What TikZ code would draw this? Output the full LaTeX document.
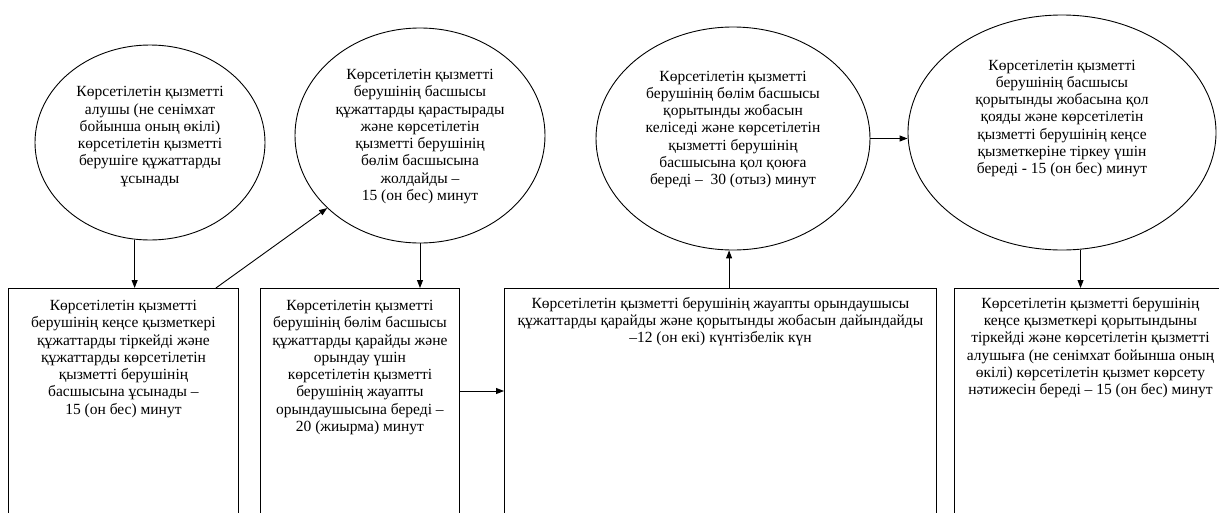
\documentclass[tikz,border=0pt]{standalone}
\usepackage{fontspec}
\setmainfont{Liberation Serif}
\usetikzlibrary{shapes.geometric,arrows.meta,calc}
\begin{document}
\begin{tikzpicture}[x=1pt,y=-1pt,
  ell/.style={draw, ellipse, line width=0.9pt, inner sep=0pt},
  stepbox/.style={draw, rectangle, line width=0.9pt, anchor=north west, inner sep=0pt},
  txt/.style={align=center, inner sep=0pt, font=\fontsize{15.5}{17.3}\selectfont},
  arr/.style={-{Triangle[length=8pt,width=6pt]}, line width=0.9pt}]
\useasboundingbox (0,0) rectangle (1219,512);
\clip (0,0) rectangle (1219,512);

% ellipses
\node[ell, minimum width=230pt, minimum height=195pt] (e1) at (150,142.5) {};
\node[ell, minimum width=250pt, minimum height=215pt] (e2) at (420,135.5) {};
\node[ell, minimum width=274pt, minimum height=223pt] (e3) at (733,138.5) {};
\node[ell, minimum width=308pt, minimum height=235pt] (e4) at (1062,132.5) {};

\node[txt] (t1) at ([yshift=6pt]e1.center) {Көрсетілетін қызметті\\ алушы (не сенімхат\\ бойынша оның өкілі)\\ көрсетілетін қызметті\\ берушіге құжаттарды\\ ұсынады};
\node[txt] (t2) at ([yshift=-1pt]e2.center) {Көрсетілетін қызметті\\ берушінің басшысы\\ құжаттарды қарастырады\\ және көрсетілетін\\ қызметті берушінің\\ бөлім басшысына\\ жолдайды –\\ 15 (он бес) минут};
\node[txt] (t3) at ([yshift=9pt]e3.center) {Көрсетілетін қызметті\\ берушінің бөлім басшысы\\ қорытынды жобасын\\ келіседі және көрсетілетін\\ қызметті берушінің\\ басшысына қол қоюға\\ береді –\ \ 30 (отыз) минут};
\node[txt] (t4) at ([yshift=14pt]e4.center) {Көрсетілетін қызметті\\ берушінің басшысы\\ қорытынды жобасына қол\\ қояды және көрсетілетін\\ қызметті берушінің кеңсе\\ қызметкеріне тіркеу үшін\\ береді - 15 (он бес) минут};

% boxes
\node[stepbox, minimum width=230pt, minimum height=240pt] (b1) at (8,288) {};
\node[stepbox, minimum width=199pt, minimum height=240pt] (b2) at (260,288) {};
\node[stepbox, minimum width=432pt, minimum height=240pt] (b3) at (504,288) {};
\node[stepbox, minimum width=272pt, minimum height=240pt] (b4) at (954,288) {};

\node[txt, anchor=north] (s1) at ([yshift=-12pt]b1.north) {Көрсетілетін қызметті\\ берушінің кеңсе қызметкері\\ құжаттарды тіркейді және\\ құжаттарды көрсетілетін\\ қызметті берушінің\\ басшысына ұсынады –\\ 15 (он бес) минут};
\node[txt, anchor=north] (s2) at ([yshift=-12pt]b2.north) {Көрсетілетін қызметті\\ берушінің бөлім басшысы\\ құжаттарды қарайды және\\ орындау үшін\\ көрсетілетін қызметті\\ берушінің жауапты\\ орындаушысына береді –\\ 20 (жиырма) минут};
\node[txt, anchor=north] (s3) at ([yshift=-9pt]b3.north) {Көрсетілетін қызметті берушінің жауапты орындаушысы\\ құжаттарды қарайды және қорытынды жобасын дайындайды\\ –12 (он екі) күнтізбелік күн};
\node[txt, anchor=north] (s4) at ([yshift=-9pt]b4.north) {Көрсетілетін қызметті берушінің\\ кеңсе қызметкері қорытындыны\\ тіркейді және көрсетілетін қызметті\\ алушыға (не сенімхат бойынша оның\\ өкілі) көрсетілетін қызмет көрсету\\ нәтижесін береді – 15 (он бес) минут};

% connectors
\draw[arr] (e1.261) -- (e1.261 |- b1.north);
\draw[arr] ([xshift=-23pt]b1.north east) -- (e2.218);
\draw[arr] (e2.south) -- (e2.south |- b2.north);
\draw[arr] ([yshift=-103pt]b2.north east) -- ([yshift=-103pt]b3.north west);
\draw[arr] (e3.268 |- b3.north) -- (e3.268);
\draw[arr] (e3.east) -- (e3.east -| e4.west);
\draw[arr] (e4.-81) -- (e4.-81 |- b4.north);
\end{tikzpicture}
\end{document}
